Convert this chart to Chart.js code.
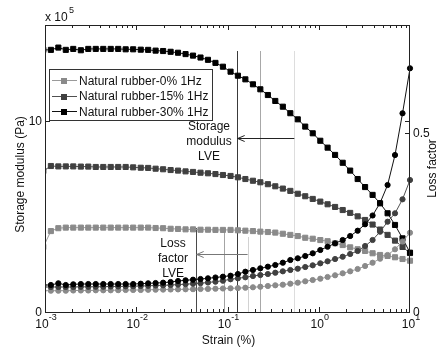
<!DOCTYPE html>
<html>
<head>
<meta charset="utf-8">
<script src="https://cdn.jsdelivr.net/npm/chart.js"></script>
<style>
  body { margin: 0; background: #fff; }
  canvas { display: block; }
</style>
</head>
<body>
<canvas id="dma-chart" width="443" height="347"></canvas>
<script>
// Strain sweep at 1 Hz (first point sits just left of 1e-3 and is clipped)
const strain = [
  0.000959, 0.00116, 0.00140, 0.00169, 0.00204, 0.00247, 0.00298, 0.00360, 0.00435, 0.00525,
  0.00634, 0.00766, 0.00925, 0.0112, 0.0135, 0.0163, 0.0197, 0.0238, 0.0287, 0.0347,
  0.0419, 0.0506, 0.0611, 0.0738, 0.0891, 0.108, 0.130, 0.157, 0.190, 0.229,
  0.277, 0.334, 0.404, 0.488, 0.589, 0.711, 0.859, 1.04, 1.25, 1.51,
  1.83, 2.21, 2.67, 3.22, 3.89, 4.70, 5.68, 6.85, 8.28, 10
];

// Storage modulus, x 10^5 Pa
const storage0 = [
  3.40, 4.23, 4.38, 4.41, 4.41, 4.41, 4.41, 4.41, 4.41, 4.41,
  4.41, 4.41, 4.41, 4.41, 4.41, 4.39, 4.38, 4.35, 4.34, 4.32,
  4.32, 4.30, 4.30, 4.29, 4.29, 4.29, 4.27, 4.25, 4.23, 4.20,
  4.18, 4.15, 4.09, 4.03, 3.97, 3.88, 3.83, 3.76, 3.70, 3.59,
  3.50, 3.38, 3.28, 3.19, 3.07, 2.98, 2.93, 2.86, 2.77, 2.68
];
const storage15 = [
  7.37, 7.63, 7.61, 7.61, 7.61, 7.60, 7.60, 7.58, 7.58, 7.58,
  7.58, 7.58, 7.56, 7.54, 7.53, 7.49, 7.46, 7.42, 7.39, 7.35,
  7.32, 7.28, 7.25, 7.21, 7.16, 7.11, 7.04, 6.95, 6.86, 6.78,
  6.68, 6.57, 6.45, 6.33, 6.18, 6.05, 5.91, 5.77, 5.63, 5.49,
  5.33, 5.18, 5.00, 4.81, 4.57, 4.31, 4.03, 3.73, 3.40, 3.08
];
const storage30 = [
  13.70, 13.70, 13.82, 13.70, 13.75, 13.68, 13.75, 13.75, 13.75, 13.75,
  13.75, 13.73, 13.73, 13.71, 13.70, 13.66, 13.64, 13.60, 13.55, 13.48,
  13.40, 13.30, 13.18, 13.02, 12.82, 12.56, 12.35, 12.16, 11.90, 11.64,
  11.34, 11.03, 10.73, 10.39, 10.07, 9.69, 9.34, 8.95, 8.59, 8.21,
  7.80, 7.39, 6.95, 6.53, 6.12, 5.68, 5.16, 4.55, 3.85, 3.10
];

// Loss factor (tan delta)
const loss0 = [
  0.0594, 0.0594, 0.0594, 0.0594, 0.0599, 0.0599, 0.0599, 0.0605, 0.0605, 0.0605,
  0.0608, 0.0613, 0.0613, 0.0613, 0.0619, 0.0622, 0.0624, 0.0627, 0.0630, 0.0633,
  0.0636, 0.0641, 0.0644, 0.0649, 0.0655, 0.0661, 0.0666, 0.0677, 0.0689, 0.0705,
  0.0725, 0.0744, 0.0761, 0.0789, 0.0817, 0.0856, 0.0892, 0.0929, 0.0976, 0.1023,
  0.1079, 0.1134, 0.1199, 0.1282, 0.1374, 0.1486, 0.1589, 0.1748, 0.1965, 0.2210
];
const loss15 = [
  0.0697, 0.0697, 0.0697, 0.0697, 0.0697, 0.0702, 0.0702, 0.0705, 0.0705, 0.0711,
  0.0711, 0.0716, 0.0719, 0.0725, 0.0730, 0.0739, 0.0744, 0.0753, 0.0764, 0.0775,
  0.0789, 0.0803, 0.0822, 0.0845, 0.0872, 0.0912, 0.0939, 0.0967, 0.1003, 0.1031,
  0.1059, 0.1095, 0.1134, 0.1171, 0.1207, 0.1254, 0.1301, 0.1357, 0.1413, 0.1477,
  0.1541, 0.1617, 0.1700, 0.1840, 0.2007, 0.2238, 0.2517, 0.2751, 0.3141, 0.3679
];
const loss30 = [
  0.0753, 0.0753, 0.0800, 0.0753, 0.0772, 0.0780, 0.0780, 0.0780, 0.0780, 0.0780,
  0.0780, 0.0780, 0.0780, 0.0789, 0.0800, 0.0808, 0.0817, 0.0836, 0.0864, 0.0884,
  0.0900, 0.0920, 0.0939, 0.0962, 0.0984, 0.1012, 0.1059, 0.1123, 0.1171, 0.1218,
  0.1263, 0.1310, 0.1374, 0.1449, 0.1497, 0.1561, 0.1636, 0.1728, 0.1820, 0.1915,
  0.2007, 0.2118, 0.2266, 0.2445, 0.2690, 0.3040, 0.3540, 0.4376, 0.5539, 0.6793
];

const seriesNames = ['Natural rubber-0% 1Hz', 'Natural rubber-15% 1Hz', 'Natural rubber-30% 1Hz'];
const seriesColors = ['#8a8a8a', '#404040', '#000000'];
const lineColors = ['#9a9a9a', '#505050', '#111111'];

// Axis ticks
const xMajorTicks = [0.001, 0.01, 0.1, 1, 10];
const xTickExponents = ['-3', '-2', '-1', '0', '1'];
const leftTicks = [0, 10];
const leftTickLabels = ['0', '10'];
const rightTicks = [0, 0.5];
const rightTickLabels = ['0', '0.5'];

// Linear viscoelastic limits (strain %), order 30%, 15%, 0%
const storageLve = [0.126, 0.227, 0.54];
const storageLveColors = ['#3a3a3a', '#a8a8a8', '#dddddd'];
const storageLveTop = 13.64;
const lossLve = [0.0448, 0.0923, 0.166];
const lossLveColors = ['#4a4a4a', '#a4a4a4', '#d2d2d2'];
const lossLveTop = [0.234, 0.229, 0.209];

const FONT = '"Liberation Sans", Arial, sans-serif';
const INK = '#111';

function points(values) {
  return strain.map((s, i) => ({ x: s, y: values[i] }));
}

function makeSet(label, values, idx, axis, style) {
  const square = style === 'rect';
  return {
    label: label,
    data: points(values),
    yAxisID: axis,
    borderColor: lineColors[idx],
    backgroundColor: seriesColors[idx],
    borderWidth: 1,
    pointStyle: style,
    pointRadius: square ? 3.6 : 2.6,
    pointBorderWidth: 1,
    pointBorderColor: seriesColors[idx],
    pointBackgroundColor: seriesColors[idx],
    tension: 0,
    clip: { left: 0, top: 6, right: 6, bottom: 6 }
  };
}

function drawArrow(ctx, x1, x2, y, color) {
  ctx.save();
  ctx.strokeStyle = color;
  ctx.lineWidth = 1;
  ctx.beginPath();
  ctx.moveTo(x1, y + 0.5);
  ctx.lineTo(x2, y + 0.5);
  ctx.stroke();
  // open arrowhead pointing left
  ctx.beginPath();
  ctx.moveTo(x2 + 7, y - 2.5);
  ctx.lineTo(x2, y + 0.5);
  ctx.lineTo(x2 + 7, y + 3.5);
  ctx.stroke();
  ctx.restore();
}

function drawPow(ctx, base, exp, cx, baseline) {
  ctx.font = '12px ' + FONT;
  const wb = ctx.measureText(base).width;
  ctx.font = '9px ' + FONT;
  const we = ctx.measureText(exp).width;
  const left = cx - (wb + we) / 2;
  ctx.textAlign = 'left';
  ctx.font = '12px ' + FONT;
  ctx.fillText(base, left, baseline);
  ctx.font = '9px ' + FONT;
  ctx.fillText(exp, left + wb, baseline - 8);
}

const lveLines = {
  id: 'lveLines',
  beforeDatasetsDraw(chart) {
    const { ctx, chartArea, scales } = chart;
    ctx.save();
    ctx.lineWidth = 1;
    storageLve.forEach((s, i) => {
      const x = Math.round(scales.x.getPixelForValue(s)) + 0.5;
      ctx.strokeStyle = storageLveColors[i];
      ctx.beginPath();
      ctx.moveTo(x, scales.y.getPixelForValue(storageLveTop));
      ctx.lineTo(x, chartArea.bottom);
      ctx.stroke();
    });
    lossLve.forEach((s, i) => {
      const x = Math.round(scales.x.getPixelForValue(s)) + 0.5;
      ctx.strokeStyle = lossLveColors[i];
      ctx.beginPath();
      ctx.moveTo(x, scales.y2.getPixelForValue(lossLveTop[i]));
      ctx.lineTo(x, chartArea.bottom);
      ctx.stroke();
    });
    ctx.restore();
  },
  afterDatasetsDraw(chart) {
    const { ctx, chartArea, scales } = chart;
    const { left, right, top, bottom } = chartArea;
    const xs = scales.x, yl = scales.y, yr = scales.y2;

    ctx.save();
    ctx.fillStyle = INK;
    ctx.textBaseline = 'alphabetic';

    // arrows and LVE notes
    const ya = Math.round(yl.getPixelForValue(9.1));
    drawArrow(ctx, xs.getPixelForValue(storageLve[2]), xs.getPixelForValue(storageLve[0]) + 1, ya, '#222');
    const yb = Math.round(yr.getPixelForValue(0.162));
    drawArrow(ctx, xs.getPixelForValue(lossLve[2]), xs.getPixelForValue(lossLve[0]) + 1, yb, '#777');

    ctx.font = '12px ' + FONT;
    ctx.textAlign = 'center';
    const sx = xs.getPixelForValue(0.0627);
    ['Storage', 'modulus', 'LVE'].forEach((t, i) => ctx.fillText(t, sx, ya - 8 + i * 15));
    const lx = xs.getPixelForValue(0.0253);
    ['Loss', 'factor', 'LVE'].forEach((t, i) => ctx.fillText(t, lx, yb - 7 + i * 15));

    // frame
    ctx.strokeStyle = '#222';
    ctx.lineWidth = 1;
    ctx.strokeRect(left + 0.5, top + 0.5, right - left - 1, bottom - top);

    // x ticks, log minors, on bottom and top edges
    ctx.beginPath();
    for (let e = -3; e <= 0; e++) {
      for (let k = 1; k <= 9; k++) {
        const v = k * Math.pow(10, e);
        const x = Math.round(xs.getPixelForValue(v)) + 0.5;
        const len = k === 1 ? 5 : 3;
        ctx.moveTo(x, bottom); ctx.lineTo(x, bottom - len);
        ctx.moveTo(x, top); ctx.lineTo(x, top + len);
      }
    }
    // left axis ticks, mirrored on the right edge
    leftTicks.forEach(v => {
      const y = Math.round(yl.getPixelForValue(v)) + 0.5;
      ctx.moveTo(left, y); ctx.lineTo(left + 5, y);
      ctx.moveTo(right, y); ctx.lineTo(right - 5, y);
    });
    rightTicks.forEach(v => {
      const y = Math.round(yr.getPixelForValue(v)) + 0.5;
      ctx.moveTo(right, y); ctx.lineTo(right - 5, y);
    });
    ctx.stroke();

    // tick labels
    xMajorTicks.forEach((v, i) => {
      drawPow(ctx, '10', xTickExponents[i], xs.getPixelForValue(v) + 1, bottom + 16);
    });
    ctx.font = '12px ' + FONT;
    ctx.textAlign = 'right';
    leftTicks.forEach((v, i) => {
      ctx.fillText(leftTickLabels[i], left - 3, yl.getPixelForValue(v) + 4);
    });
    ctx.textAlign = 'left';
    rightTicks.forEach((v, i) => {
      ctx.fillText(rightTickLabels[i], right + 3, yr.getPixelForValue(v) + 4);
    });

    // exponent marker for the left axis
    ctx.fillText('x 10', left, top - 4);
    ctx.font = '9px ' + FONT;
    ctx.fillText('5', left + ctx.measureText('x 1').width + 12, top - 12);

    // axis titles
    ctx.font = '12px ' + FONT;
    ctx.textAlign = 'center';
    ctx.fillText('Strain (%)', (left + right) / 2 + 1, bottom + 32);
    ctx.save();
    ctx.translate(20, (top + bottom) / 2 + 6);
    ctx.rotate(-Math.PI / 2);
    ctx.fillText('Storage modulus (Pa)', 0, 4);
    ctx.restore();
    ctx.save();
    ctx.translate(432, (top + bottom) / 2);
    ctx.rotate(-Math.PI / 2);
    ctx.fillText('Loss factor', 0, 4);
    ctx.restore();

    // legend box
    const bx = 49, by = 69, bw = 163, bh = 51;
    ctx.fillStyle = '#fff';
    ctx.fillRect(bx, by, bw, bh);
    ctx.strokeStyle = '#333';
    ctx.strokeRect(bx + 0.5, by + 0.5, bw, bh);
    seriesNames.forEach((name, i) => {
      const ry = by + 11 + i * 15.5;
      ctx.strokeStyle = lineColors[i];
      ctx.beginPath();
      ctx.moveTo(bx + 3, Math.round(ry) + 0.5);
      ctx.lineTo(bx + 28, Math.round(ry) + 0.5);
      ctx.stroke();
      ctx.fillStyle = seriesColors[i];
      ctx.fillRect(bx + 12, Math.round(ry) - 2, 6, 6);
      ctx.fillStyle = INK;
      ctx.textAlign = 'left';
      ctx.font = '12px ' + FONT;
      ctx.fillText(name, bx + 30, ry + 4.5);
    });
    ctx.restore();
  }
};

new Chart(document.getElementById('dma-chart'), {
  type: 'line',
  data: {
    datasets: [
      makeSet('Loss 30%', loss30, 2, 'y2', 'circle'),
      makeSet('Loss 15%', loss15, 1, 'y2', 'circle'),
      makeSet('Loss 0%', loss0, 0, 'y2', 'circle'),
      makeSet(seriesNames[2], storage30, 2, 'y', 'rect'),
      makeSet(seriesNames[1], storage15, 1, 'y', 'rect'),
      makeSet(seriesNames[0], storage0, 0, 'y', 'rect')
    ]
  },
  options: {
    responsive: false,
    animation: false,
    devicePixelRatio: 1,
    layout: { padding: { top: 25, left: 0, right: 0, bottom: 0 } },
    plugins: {
      legend: { display: false },
      tooltip: { enabled: false }
    },
    scales: {
      x: {
        type: 'logarithmic',
        min: 0.001,
        max: 10,
        ticks: { display: false },
        grid: { display: false },
        border: { display: false },
        afterFit(scale) { scale.height = 35; }
      },
      y: {
        type: 'linear',
        position: 'left',
        min: 0,
        max: 15,
        ticks: { display: false },
        grid: { display: false },
        border: { display: false },
        afterFit(scale) { scale.width = 45; }
      },
      y2: {
        type: 'linear',
        position: 'right',
        min: 0,
        max: 0.8,
        ticks: { display: false },
        grid: { display: false },
        border: { display: false },
        afterFit(scale) { scale.width = 33; }
      }
    }
  },
  plugins: [lveLines]
});
</script>
</body>
</html>
